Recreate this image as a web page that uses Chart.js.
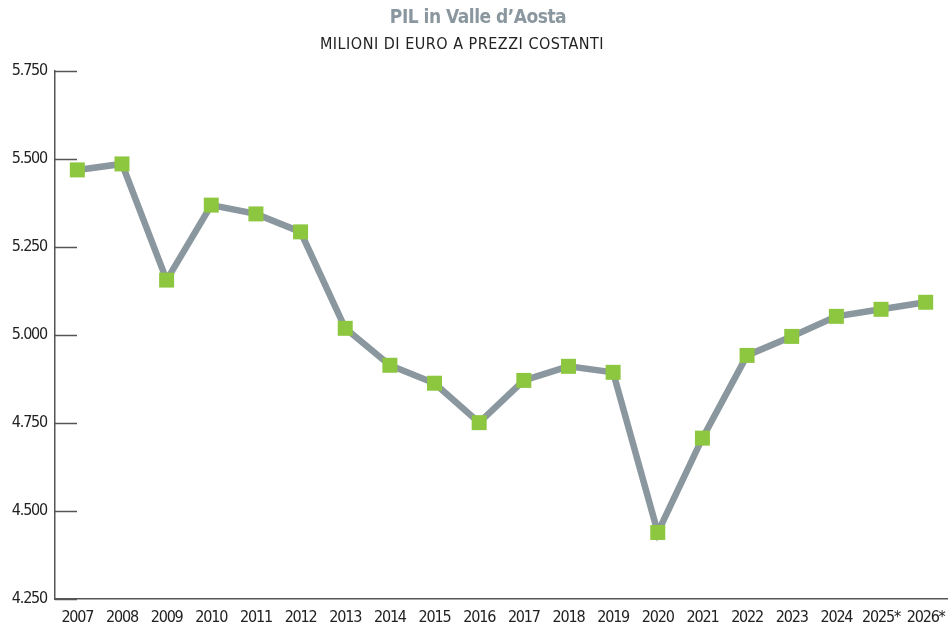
<!DOCTYPE html>
<html><head><meta charset="utf-8">
<script src="https://cdn.jsdelivr.net/npm/chart.js@4/dist/chart.umd.min.js"></script>
<style>html,body{margin:0;padding:0;background:#fff}#wrap{width:948px;height:628px}</style>
</head><body><div id="wrap"><canvas id="c" width="948" height="628"></canvas></div>
<script>
const years = ['2007','2008','2009','2010','2011','2012','2013','2014','2015','2016','2017','2018','2019','2020','2021','2022','2023','2024','2025*','2026*'];
const pil = [5469,5486,5156,5369,5344,5293,5019,4914,4863,4751,4871,4911,4894,4439,4707,4942,4996,5053,5073,5093];
const yTicks = [4250,4500,4750,5000,5250,5500,5750];
const titleText = 'PIL in Valle d\u2019Aosta';
const subtitleText = 'MILIONI DI EURO A PREZZI COSTANTI';

const FONT = "'Liberation Sans Narrow','DejaVu Sans Condensed','Roboto Condensed',sans-serif";
const fmt = v => Math.floor(v/1000) + '.' + String(v%1000).padStart(3,'0');

const spacing = {
  id:'spacing',
  beforeUpdate(chart){ chart.ctx.letterSpacing = '-1.2px'; },
  beforeDraw(chart){ chart.ctx.letterSpacing = '-1.2px'; }
};

const innerTicks = {
  id:'innerTicks',
  beforeDatasetsDraw(chart){
    const {ctx, chartArea, scales:{y}} = chart;
    ctx.save();
    ctx.strokeStyle = '#555';
    ctx.lineWidth = 1.5;
    yTicks.forEach(v=>{
      const py = Math.round(y.getPixelForValue(v))+0.5;
      ctx.beginPath();
      ctx.moveTo(chartArea.left, py);
      ctx.lineTo(chartArea.left+22, py);
      ctx.stroke();
    });
    ctx.restore();
  }
};

const headings = {
  id:'headings',
  afterDraw(chart){
    const ctx = chart.ctx;
    ctx.save();
    ctx.textAlign = 'center';
    ctx.textBaseline = 'middle';
    ctx.letterSpacing = '-0.5px';
    ctx.fillStyle = '#8A979F';
    ctx.font = "bold 19px " + FONT;
    ctx.fillText(titleText, 478, 18);
    ctx.letterSpacing = '0.5px';
    ctx.fillStyle = '#222';
    ctx.font = "16px " + FONT;
    ctx.fillText(subtitleText, 462, 45);
    ctx.restore();
  }
};

new Chart(document.getElementById('c'), {
  type:'line',
  data:{labels:years, datasets:[{
    data:pil,
    borderColor:'#8A979F',
    borderWidth:6.5,
    pointStyle:'rect',
    pointRadius:10.6,
    pointHoverRadius:10.6,
    pointBackgroundColor:'#8DC63F',
    pointBorderColor:'#8DC63F',
    pointBorderWidth:0,
    tension:0,
    clip:false
  }]},
  options:{
    responsive:false,
    animation:false,
    devicePixelRatio:1,
    layout:{autoPadding:false,padding:{left:11,right:0,top:71,bottom:0}},
    plugins:{
      legend:{display:false},
      tooltip:{enabled:false},
      title:{display:false},
      subtitle:{display:false}
    },
    scales:{
      x:{
        offset:true,
        afterFit(s){ s.height = 29; s.paddingRight = 0; s.paddingLeft = 0; },
        grid:{display:true,drawOnChartArea:false,drawTicks:false},
        border:{display:true,color:'#555',width:1.5},
        ticks:{color:'#222',font:{family:FONT,size:16},padding:9,maxRotation:0,autoSkip:false}
      },
      y:{
        min:4250,max:5750,
        afterFit(s){ s.width = 44; },
        afterBuildTicks(s){ s.ticks = yTicks.map(v=>({value:v})); },
        grid:{display:true,drawOnChartArea:false,drawTicks:false},
        border:{display:true,color:'#555',width:1.5},
        ticks:{color:'#222',font:{family:FONT,size:16},padding:8,callback:v=>fmt(v)}
      }
    }
  },
  plugins:[spacing, innerTicks, headings]
});
</script></body></html>
